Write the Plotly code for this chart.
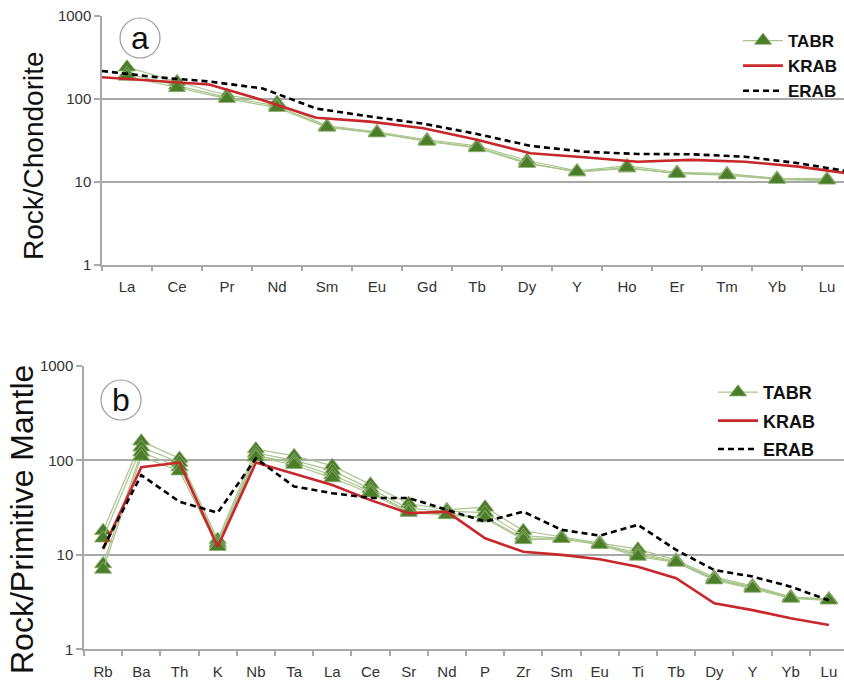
import plotly.graph_objects as go

# ---------------- data ----------------
ree_labels = ["La", "Ce", "Pr", "Nd", "Sm", "Eu", "Gd", "Tb", "Dy", "Y", "Ho", "Er", "Tm", "Yb", "Lu"]
tabr_ree_1 = [240, 160, 110, 90, 47, 40, 32, 27, 18, 13.5, 15.5, 13, 12.5, 11, 10.8]
tabr_ree_2 = [200, 145, 104, 82, 46, 39, 31, 26, 17, 13, 14.5, 12.7, 12.3, 10.8, 10.5]
tabr_ree_3 = [185, 135, 100, 78, 45, 38.5, 30.5, 25.5, 16.5, 13.2, 14.8, 12.5, 12, 10.6, 10.4]
krab_ree = [181, 163, 148, 96, 59, 53, 44, 32, 22, 19.7, 17.4, 18.3, 17.4, 15.2, 12.4]
erab_ree = [216, 182, 161, 133, 76, 61, 50, 37.6, 27, 23, 21.6, 21.4, 20, 16.7, 13.1]

pm_labels = ["Rb", "Ba", "Th", "K", "Nb", "Ta", "La", "Ce", "Sr", "Nd", "P", "Zr", "Sm", "Eu",
             "Ti", "Tb", "Dy", "Y", "Yb", "Lu"]
tabr_pm_1 = [18, 160, 105, 14.5, 132, 112, 88, 56, 35, 30, 32, 18, 15.5, 13.5, 11.5, 8.8, 5.8, 4.7, 3.6, 3.4]
tabr_pm_2 = [15, 138, 95, 13.5, 120, 100, 78, 50, 31, 29, 28, 16, 15, 13, 10.5, 8.5, 5.6, 4.6, 3.55, 3.4]
tabr_pm_3 = [8, 122, 85, 12.8, 112, 95, 70, 47, 29, 27, 25, 15, 15, 13, 10, 8.4, 5.5, 4.5, 3.5, 3.35]
tabr_pm_4 = [7, 110, 77, 12.2, 108, 90, 65, 45, 28, 26.5, 24.5, 14.4, 14.8, 12.8, 9.6, 8.3, 5.4, 4.4, 3.45, 3.3]
krab_pm = [11.5, 85, 95, 12.2, 95, 72, 55, 38, 27.6, 28.7, 15, 10.8, 10, 9, 7.5, 5.65, 3.07, 2.6, 2.13, 1.81]
erab_pm = [11.8, 70, 36.5, 28, 105, 53, 45, 40, 40, 30, 22.5, 28.7, 18.4, 16, 20.8, 11.3, 6.9, 5.9, 4.6, 3.3]

y_ticks = [1, 10, 100, 1000]
y_tick_text = ["1", "10", "100", "1000"]

# ---------------- styles ----------------
GREEN_LINE = "#a9c58c"
GREEN_MARK = "#4b7d2b"
RED = "#c8282c"
FONT = "Liberation Sans, Arial, sans-serif"
GRID = "#a8a8a8"

W, H = 844, 686
fig = go.Figure()


def tabr_trace(x, y, xa, ya, show, legend):
    return go.Scatter(
        x=x, y=y, xaxis=xa, yaxis=ya, mode="lines+markers", name="TABR",
        line=dict(color=GREEN_LINE, width=1.2),
        marker=dict(symbol="triangle-up", size=15, color=GREEN_MARK,
                    line=dict(color="#8fb070", width=0.8)),
        showlegend=show, legend=legend, legendgroup=legend + "t",
    )


# Panel a
for i, ys in enumerate([tabr_ree_1, tabr_ree_2, tabr_ree_3]):
    fig.add_trace(tabr_trace(ree_labels, ys, "x", "y", i == 0, "legend"))
fig.add_trace(go.Scatter(x=ree_labels, y=krab_ree, xaxis="x3", yaxis="y", mode="lines", name="KRAB",
                         line=dict(color=RED, width=2.6), legend="legend"))
fig.add_trace(go.Scatter(x=ree_labels, y=erab_ree, xaxis="x3", yaxis="y", mode="lines", name="ERAB",
                         line=dict(color="black", width=2.6, dash="6px,4px"), legend="legend"))

# Panel b
for i, ys in enumerate([tabr_pm_1, tabr_pm_2, tabr_pm_3, tabr_pm_4]):
    fig.add_trace(tabr_trace(pm_labels, ys, "x2", "y2", i == 0, "legend2"))
fig.add_trace(go.Scatter(x=pm_labels, y=krab_pm, xaxis="x2", yaxis="y2", mode="lines", name="KRAB",
                         line=dict(color=RED, width=2.6), legend="legend2"))
fig.add_trace(go.Scatter(x=pm_labels, y=erab_pm, xaxis="x2", yaxis="y2", mode="lines", name="ERAB",
                         line=dict(color="black", width=2.6, dash="6px,4px"), legend="legend2"))

# geometry (pixels -> paper)
a_left, a_top, a_bot = 102, 15.7, 264.7
b_left, b_top, b_bot = 84, 366, 649.3
a_step, b_step = 50.0, 38.2

xcommon = dict(type="category", showgrid=False, showline=True, linecolor=GRID, linewidth=1.5,
               ticks="outside", tickson="boundaries", ticklen=5, tickcolor=GRID, tickwidth=1.5,
               tickfont=dict(family=FONT, size=15, color="#333333"), zeroline=False,
               automargin=False)
ycommon = dict(type="log", range=[0, 3], tickvals=y_ticks, ticktext=y_tick_text,
               showgrid=True, gridcolor=GRID, gridwidth=1.5, showline=True, linecolor=GRID,
               linewidth=1.5, ticks="outside", ticklen=6, tickcolor=GRID, tickwidth=1.5,
               tickfont=dict(family=FONT, size=15, color="#333333"), zeroline=False,
               automargin=False)

fig.update_layout(
    width=W, height=H, margin=dict(l=0, r=0, t=0, b=0, autoexpand=False),
    paper_bgcolor="white", plot_bgcolor="white",
    xaxis=dict(**xcommon, domain=[a_left / W, 1], anchor="y",
               categoryorder="array", categoryarray=ree_labels,
               range=[-0.5, (W - a_left) / a_step - 0.5], ticklabelstandoff=8),
    xaxis3=dict(type="category", overlaying="x", visible=False, anchor="y",
                categoryorder="array", categoryarray=ree_labels,
                range=[0, (W - a_left) / ((W + 8 - a_left) / 14)]),
    yaxis=dict(**ycommon, domain=[1 - a_bot / H, 1 - a_top / H], anchor="x"),
    xaxis2=dict(**xcommon, domain=[b_left / W, 1], anchor="y2",
                categoryorder="array", categoryarray=pm_labels,
                range=[-0.5, (W - b_left) / b_step - 0.5], ticklabelstandoff=8),
    yaxis2=dict(**ycommon, domain=[1 - b_bot / H, 1 - b_top / H], anchor="x2"),
    legend=dict(x=738 / W, xanchor="left", y=1 - 23 / H, yanchor="top", bgcolor="rgba(0,0,0,0)",
                font=dict(family=FONT, size=17, color="#111111", weight="bold"),
                tracegroupgap=0, itemwidth=40),
    legend2=dict(x=713 / W, xanchor="left", y=1 - 374 / H, yanchor="top", bgcolor="rgba(0,0,0,0)",
                 font=dict(family=FONT, size=18, color="#111111", weight="bold"),
                 tracegroupgap=2, itemwidth=40),
    showlegend=True,
)

# y-axis titles
fig.add_annotation(x=33 / W, y=1 - 156 / H, xref="paper", yref="paper", text="Rock/Chondorite",
                   textangle=-90, showarrow=False, xanchor="center", yanchor="middle",
                   font=dict(family=FONT, size=28, color="#111111"))
fig.add_annotation(x=22 / W, y=1 - 520 / H, xref="paper", yref="paper", text="Rock/Primitive Mantle",
                   textangle=-90, showarrow=False, xanchor="center", yanchor="middle",
                   font=dict(family=FONT, size=32, color="#111111"))

# panel letters in circles
for cx, cy, r, letter in [(140, 38, 20, "a"), (121, 400, 20, "b")]:
    fig.add_shape(type="circle", xref="paper", yref="paper",
                  x0=(cx - r) / W, x1=(cx + r) / W, y0=1 - (cy + r) / H, y1=1 - (cy - r) / H,
                  line=dict(color="#9a9a9a", width=1.2), fillcolor="white")
    fig.add_annotation(x=cx / W, y=1 - cy / H, xref="paper", yref="paper", text=letter,
                       showarrow=False, xanchor="center", yanchor="middle",
                       font=dict(family=FONT, size=32, color="#111111"))

fig.write_html("out.html", config={"displayModeBar": False},
               post_script="document.body.style.margin='0';")
